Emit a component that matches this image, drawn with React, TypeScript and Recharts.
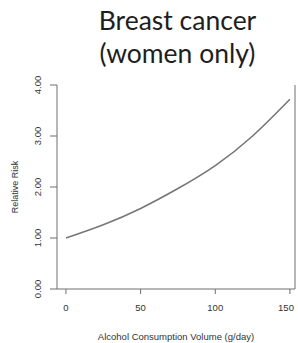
import React from "react";
import { LineChart, Line, XAxis, YAxis } from "recharts";

const doses = [0, 25, 50, 75, 100, 125, 150];
const relativeRisk = [1.0, 1.26, 1.58, 1.97, 2.42, 3.0, 3.72];
const xTicks = [0, 50, 100, 150];
const yTicks = [0, 1, 2, 3, 4];
const titleLines = ["Breast cancer", "(women only)"];
const xLabel = "Alcohol Consumption Volume (g/day)";
const yLabel = "Relative Risk";

const data = doses.map((d, i) => ({ dose: d, rr: relativeRisk[i] }));

const AXIS = "#6e6e6e";
const TXT = "#333";
const FONT = "'Liberation Sans', Arial, sans-serif";

const YTick = (props: any) => {
  const { x, y, payload } = props;
  const cx = x - 11;
  return (
    <text
      x={cx}
      y={y}
      transform={`rotate(-90, ${cx}, ${y})`}
      textAnchor="middle"
      dominantBaseline="central"
      fontSize={9.5}
      fontFamily={FONT}
      fill={TXT}
    >
      {Number(payload.value).toFixed(2)}
    </text>
  );
};

const XTick = (props: any) => {
  const { x, y, payload } = props;
  return (
    <text
      x={x}
      y={y + 11}
      textAnchor="middle"
      dominantBaseline="central"
      fontSize={9.5}
      fontFamily={FONT}
      fill={TXT}
    >
      {payload.value}
    </text>
  );
};

export default function App() {
  return (
    <div style={{ position: "absolute", left: 0, top: 0, width: 298, height: 343, background: "#fff" }}>
      <div
        style={{
          position: "absolute",
          left: 57,
          width: 241,
          top: 4,
          textAlign: "center",
          fontFamily: "Lato, 'Open Sans', sans-serif",
          fontSize: 26.5,
          lineHeight: "33px",
          color: "#1e1e1e",
        }}
      >
        {titleLines.map((t) => (
          <div key={t}>{t}</div>
        ))}
      </div>
      <LineChart width={298} height={343} data={data} margin={{ top: 85, right: 0, bottom: 0, left: 0 }}>
        <XAxis
          dataKey="dose"
          type="number"
          domain={[-6, 153.4]}
          ticks={xTicks}
          allowDataOverflow
          stroke={AXIS}
          tickSize={5}
          tick={<XTick />}
          height={54}
          label={{ value: xLabel, position: "insideBottom", offset: 3, fontSize: 9.5, fontFamily: FONT, fill: TXT }}
        />
        <XAxis xAxisId="top" orientation="top" dataKey="dose" type="number" domain={[-6, 153.4]} tick={false} tickLine={false} stroke={AXIS} height={0} />
        <YAxis
          type="number"
          domain={[0, 4]}
          ticks={yTicks}
          stroke={AXIS}
          tickSize={7}
          tick={<YTick />}
          width={57}
          label={{ value: yLabel, angle: -90, position: "insideLeft", offset: 15, fontSize: 9, fontFamily: FONT, fill: TXT, style: { textAnchor: "middle" } }}
        />
        <YAxis yAxisId="right" orientation="right" domain={[0, 4]} tick={false} tickLine={false} stroke={AXIS} width={3} />
        <Line
          dataKey="rr"
          type="natural"
          stroke="#777"
          strokeWidth={1.6}
          dot={false}
          isAnimationActive={false}
        />
      </LineChart>
    </div>
  );
}
